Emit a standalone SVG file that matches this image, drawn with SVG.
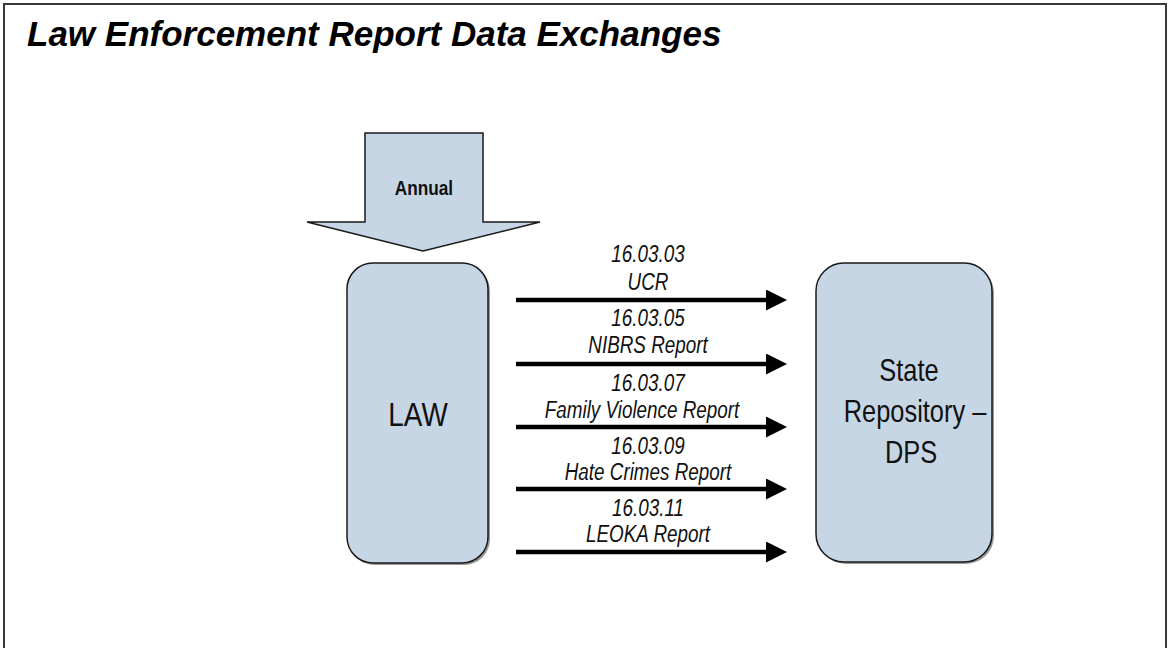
<svg xmlns="http://www.w3.org/2000/svg" width="1170" height="648" viewBox="0 0 1170 648">
  <defs>
    <style>
      .frame { fill: #ffffff; stroke: #3a3a3a; stroke-width: 2; }
      .title { font-family: "Liberation Sans", Arial, sans-serif; font-weight: bold; font-style: italic; font-size: 35px; fill: #000; }
      .box { fill: #c6d6e5; stroke: #1a1a1a; stroke-width: 1.5; }
      .shadow { fill: #555; opacity: 0.6; }
      /* condensed face: regular sans squeezed horizontally */
      .nodeLabel { font-family: "Liberation Sans", Arial, sans-serif; fill: #111; text-anchor: middle; }
      .flowLabel { font-family: "Liberation Sans", Arial, sans-serif; font-style: italic; font-size: 23px; fill: #111; text-anchor: middle; }
      .flow { stroke: #000; stroke-width: 4.5; fill: none; }
    </style>
    <marker id="head" viewBox="0 0 21 21" refX="0" refY="10.5" markerUnits="userSpaceOnUse" markerWidth="21" markerHeight="21" orient="auto">
      <path d="M0,0 L21,10.5 L0,21 Z" fill="#000"/>
    </marker>
  </defs>

  <!-- page frame -->
  <rect class="frame" x="4" y="4" width="1162" height="700"/>

  <text class="title" x="27" y="46">Law Enforcement Report Data Exchanges</text>

  <!-- block arrow: annual cycle -->
  <g id="annual">
    <path class="box" d="M365,133 L483,133 L483,222 L540,222 L423,251 L307,222 L365,222 Z"/>
    <text class="nodeLabel" transform="matrix(0.82 0 0 1 424 195)" font-size="21" font-weight="bold">Annual</text>
  </g>

  <!-- source agency -->
  <g id="law">
    <rect class="shadow" x="349" y="265" width="141" height="300" rx="26" ry="26"/>
    <rect class="box" x="347" y="263" width="141" height="300" rx="26" ry="26"/>
    <text class="nodeLabel" transform="matrix(0.82 0 0 1 418 426)" font-size="34">LAW</text>
  </g>

  <!-- receiving repository -->
  <g id="dps">
    <rect class="shadow" x="818" y="265" width="176" height="299" rx="28" ry="28"/>
    <rect class="box" x="816" y="263" width="176" height="299" rx="28" ry="28"/>
    <text class="nodeLabel" transform="matrix(0.82 0 0 1 909 381)" font-size="31">State</text>
    <text class="nodeLabel" transform="matrix(0.82 0 0 1 915 422)" font-size="31">Repository –</text>
    <text class="nodeLabel" transform="matrix(0.82 0 0 1 911 463)" font-size="31">DPS</text>
  </g>

  <!-- report exchanges -->
  <g id="connectors">
    <line class="flow" x1="516" y1="300" x2="766" y2="300" marker-end="url(#head)"/>
    <line class="flow" x1="516" y1="364" x2="766" y2="364" marker-end="url(#head)"/>
    <line class="flow" x1="516" y1="427" x2="766" y2="427" marker-end="url(#head)"/>
    <line class="flow" x1="516" y1="489" x2="766" y2="489" marker-end="url(#head)"/>
    <line class="flow" x1="516" y1="552" x2="766" y2="552" marker-end="url(#head)"/>

    <text class="flowLabel" transform="matrix(0.82 0 0 1 648 262)">16.03.03</text>
    <text class="flowLabel" transform="matrix(0.82 0 0 1 648 290)">UCR</text>
    <text class="flowLabel" transform="matrix(0.82 0 0 1 648 326)">16.03.05</text>
    <text class="flowLabel" transform="matrix(0.82 0 0 1 648 353)">NIBRS Report</text>
    <text class="flowLabel" transform="matrix(0.82 0 0 1 648 391)">16.03.07</text>
    <text class="flowLabel" transform="matrix(0.82 0 0 1 642 418)">Family Violence Report</text>
    <text class="flowLabel" transform="matrix(0.82 0 0 1 648 454)">16.03.09</text>
    <text class="flowLabel" transform="matrix(0.82 0 0 1 648 480)">Hate Crimes Report</text>
    <text class="flowLabel" transform="matrix(0.82 0 0 1 648 516)">16.03.11</text>
    <text class="flowLabel" transform="matrix(0.82 0 0 1 648 542)">LEOKA Report</text>
  </g>
</svg>
